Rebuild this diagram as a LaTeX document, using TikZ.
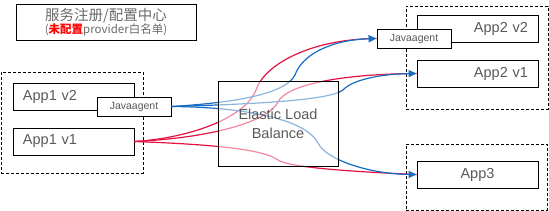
\documentclass[tikz,border=0pt]{standalone}
\usepackage{fontspec}
\setmainfont{Liberation Sans}
\newfontfamily\cjkfont{Noto Sans CJK SC}
\usetikzlibrary{arrows.meta}
\definecolor{txtgray}{RGB}{90,90,90}
\definecolor{titlegray}{RGB}{105,105,105}
\definecolor{lred}{RGB}{228,18,66}
\definecolor{lblue}{RGB}{22,108,192}
\begin{document}
\begin{tikzpicture}[x=1pt,y=-1pt,
  appbox/.style={draw=black, line width=0.9pt, fill=white, minimum height=27pt,
    text width=101pt, inner xsep=10pt, inner ysep=0pt, text=txtgray,
    font=\fontsize{14.5}{16}\selectfont},
  groupbox/.style={draw=black, line width=0.9pt, dash pattern=on 3pt off 2pt, inner sep=0pt},
  agentbox/.style={draw=black, line width=0.9pt, fill=white, minimum width=74pt, minimum height=19pt,
    inner sep=0pt, text=txtgray, font=\fontsize{10.5}{12}\selectfont},
  redline/.style={draw=lred, line width=1.2pt},
  blueline/.style={draw=lblue, line width=1.2pt, -{Triangle[length=8pt,width=7pt]}},
]
\useasboundingbox (0,0) rectangle (549,211);

% title
\node[draw=black, line width=0.9pt, minimum width=180pt, minimum height=36pt, inner sep=0pt, align=center]
  (title) at (106,22)
  {\cjkfont\color{titlegray}\fontsize{14.5}{15}\selectfont 服务注册/配置中心\\[-0.5pt]
   \cjkfont\color{titlegray}\fontsize{11.5}{13}\selectfont (\textcolor{red}{\bfseries 未配置}provider白名单)};

% groups
\node[groupbox, minimum width=142pt, minimum height=101pt] (g1) at (72,122.5) {};
\node[groupbox, minimum width=142pt, minimum height=103pt] (g2) at (477,57.5) {};
\node[groupbox, minimum width=141pt, minimum height=66pt] (g3) at (476.5,177) {};

% apps
\node[appbox, align=left] (a1v2) at (73.5,96.5) {App1 v2};
\node[appbox, align=left] (a1v1) at (73.5,141.5) {App1 v1};
\node[appbox, align=right] (a2v2) at (477.5,28.5) {App2 v2};
\node[appbox, align=right] (a2v1) at (477.5,73.5) {App2 v1};
\node[appbox, align=center] (a3) at (477.5,174.5) {App3};

% agents
\node[agentbox] (ja1) at (134,106.5) {Javaagent};
\node[agentbox] (ja2) at (414,38.5) {Javaagent};

% bend points
\coordinate (m1) at (256,90);
\coordinate (m2) at (278,102);
\coordinate (m3) at (278,160);
\coordinate (m4) at (295,75);
\coordinate (m5) at (343,90);
\coordinate (m6) at (318,143);

% red connectors
\draw[redline] (a1v1.east) .. controls (190,138) and (245,118) .. (m1)
  .. controls (264,65) and (310,39) .. (ja2.west);
\draw[redline] (a1v1.east) .. controls (210,138) and (268,122) .. (m2)
  .. controls (286,85) and (340,74) .. (a2v1.west);
\draw[redline] (a1v1.east) .. controls (200,144) and (262,148) .. (m3)
  .. controls (290,168) and (360,172) .. (a3.west);

% blue connectors
\draw[blueline] (ja1.east) .. controls (230,103) and (285,95) .. (m4)
  .. controls (302,55) and (330,40) .. (ja2.west);
\draw[blueline] (ja1.east) .. controls (260,104) and (330,100) .. (m5)
  .. controls (352,80) and (380,74) .. (a2v1.west);
\draw[blueline] (ja1.east) .. controls (240,107) and (305,118) .. (m6)
  .. controls (326,160) and (370,174) .. (a3.west);

% load balancer (semi-transparent)
\node[draw=black, line width=0.9pt, fill=white, fill opacity=0.5, text opacity=1,
  minimum width=120pt, minimum height=85pt, inner sep=0pt, align=center,
  text=txtgray, font=\fontsize{14.5}{19}\selectfont] (elb) at (278,123.5)
  {Elastic Load\\Balance};
\end{tikzpicture}
\end{document}
